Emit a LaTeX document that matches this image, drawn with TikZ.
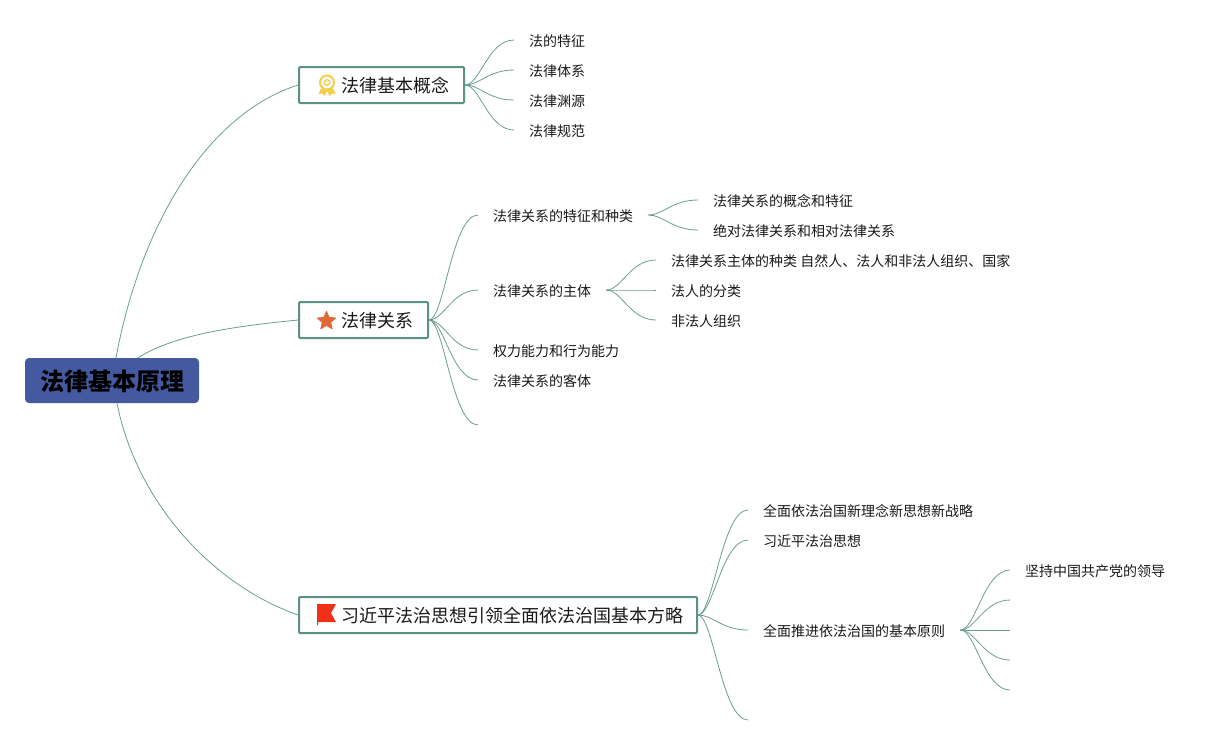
\documentclass[tikz,border=0pt]{standalone}
\usepackage{fontspec}
\setmainfont{Noto Sans CJK SC}
\usetikzlibrary{shapes.geometric}
\definecolor{linkc}{HTML}{6A9E90}
\definecolor{boxc}{HTML}{5A9384}
\definecolor{rootc}{HTML}{44599F}
\definecolor{medalc}{HTML}{F7CE4A}
\definecolor{starc}{HTML}{E2683A}
\definecolor{flagc}{HTML}{F1301A}
\tikzset{
  link/.style={draw=linkc,line width=0.8pt},
  fan/.style={to path={.. controls +(15,0) and +(-26,0) .. (\tikztotarget)}},
  rootbox/.style={fill=rootc,rounded corners=4pt,minimum width=174pt,minimum height=45pt,inner sep=0pt,font=\fontsize{24}{24}\selectfont\bfseries,text=black,text height=23.4pt,text depth=2.9pt},
  topbox/.style={draw=boxc,line width=2pt,fill=white,rounded corners=1pt,minimum height=36pt,inner sep=0pt,font=\fontsize{18}{18}\selectfont,text=black!90,anchor=west,text height=18pt,text depth=2.2pt},
  leaf/.style={anchor=west,inner xsep=15pt,inner ysep=0pt,font=\fontsize{14}{14}\selectfont,text=black!90,text height=14.6pt,text depth=2pt},
}
\begin{document}
\begin{tikzpicture}[x=1pt,y=-1pt]
\useasboundingbox (0,0) rectangle (1225,745);
% root and first-level boxes
\node[rootbox] (root) at (112,380.5) {法律基本原理};
\node[topbox,minimum width=165pt] (b1) at (298,85) {\hspace{42pt}法律基本概念\hspace*{14pt}};
\node[topbox,minimum width=129pt] (b2) at (298,320) {\hspace{42pt}法律关系\hspace*{14pt}};
\node[topbox,minimum width=398pt] (b3) at (298,615) {\hspace{42pt}习近平法治思想引领全面依法治国基本方略\hspace*{14pt}};
% root connectors
\coordinate (ra) at ([xshift=4pt]root.north);
\coordinate (rb) at ([xshift=26pt]root.north);
\coordinate (rc) at ([xshift=5pt]root.south);
\draw[link] (ra) .. controls +(24,-130) and +(-93,30) .. (b1.west);
\draw[link] (rb) .. controls +(38,-24) and +(-60,6) .. (b2.west);
\draw[link] (rc) .. controls +(20,100) and +(-85,-30) .. (b3.west);
% level 2, branch 1
\node[leaf] (a1) at (514,40) {法的特征};
\node[leaf] (a2) at (514,70) {法律体系};
\node[leaf] (a3) at (514,100) {法律渊源};
\node[leaf] (a4) at (514,130) {法律规范};
\foreach \t in {a1,a2,a3,a4} \draw[link] (b1.east) to[fan] (\t.west);
% level 2, branch 2
\node[leaf] (c1) at (478,215) {法律关系的特征和种类};
\node[leaf] (c2) at (478,290) {法律关系的主体};
\node[leaf] (c3) at (478,350) {权力能力和行为能力};
\node[leaf] (c4) at (478,380) {法律关系的客体};
\coordinate (c5) at (478,425);
\foreach \t in {c1.west,c2.west,c3.west,c4.west,c5} \draw[link] (b2.east) to[fan] (\t);
\node[leaf] (d1) at (698,200) {法律关系的概念和特征};
\node[leaf] (d2) at (698,230) {绝对法律关系和相对法律关系};
\foreach \t in {d1,d2} \draw[link] (c1.east) to[fan] (\t.west);
\node[leaf] (e1) at (656,260) {法律关系主体的种类 自然人、法人和非法人组织、国家};
\node[leaf] (e2) at (656,290) {法人的分类};
\node[leaf] (e3) at (656,320) {非法人组织};
\foreach \t in {e1,e2,e3} \draw[link] (c2.east) to[fan] (\t.west);
% level 2, branch 3
\node[leaf] (f1) at (748,510) {全面依法治国新理念新思想新战略};
\node[leaf] (f2) at (748,540) {习近平法治思想};
\node[leaf] (f3) at (748,630) {全面推进依法治国的基本原则};
\coordinate (f4) at (748,720);
\foreach \t in {f1.west,f2.west,f3.west,f4} \draw[link] (b3.east) to[fan] (\t);
\node[leaf] (g1) at (1010,570) {坚持中国共产党的领导};
\coordinate (g2) at (1010,600);
\coordinate (g3) at (1010,630);
\coordinate (g4) at (1010,660);
\coordinate (g5) at (1010,690);
\foreach \t in {g1.west,g2,g3,g4,g5} \draw[link] (f3.east) to[fan] (\t);
% medal icon
\draw[medalc,line width=2pt] (327,82.5) circle (7pt);
\draw[medalc,line width=1.3pt] (327,82.5) circle (2.8pt);
\fill[medalc,line join=round] (321,88.5) -- (318.5,94) -- (322,93.5) -- (324.5,96) -- (327,91) -- (329.5,96) -- (332,93.5) -- (335.5,94) -- (333,88.5) -- cycle;
% star icon
\node[star,star points=5,star point ratio=2.2,fill=starc,draw=starc,line join=round,line width=1pt,minimum size=19pt,inner sep=0pt] (st) at (326.5,321) {};
% flag icon
\fill[flagc] (317,604) -- (336,604) -- (331,613) -- (336,622) -- (318,622) -- (318,625) -- (317,625) -- cycle;
\end{tikzpicture}
\end{document}
